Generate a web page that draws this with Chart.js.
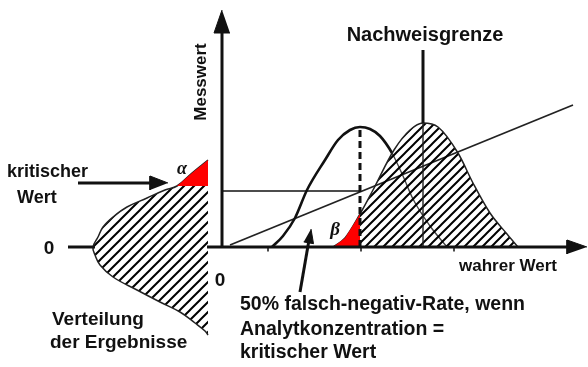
<!DOCTYPE html>
<html><head><meta charset="utf-8">
<script src="https://cdn.jsdelivr.net/npm/chart.js@4.4.1/dist/chart.umd.min.js"></script>
<style>html,body{margin:0;padding:0;background:#fff;overflow:hidden}canvas{display:block}</style>
</head><body>
<canvas id="c" width="588" height="367"></canvas>
<script>
// ---------- data (x = wahrer Wert, y = Messwert; arbitrary units) ----------
// Solid bell: distribution of results when true value = kritischer Wert
const curve1X = [5.0, 6.1, 7.3, 8.5, 10.3, 11.6, 12.8, 13.8, 14.8, 15.8, 17.0, 18.1, 19.1, 20.8, 22.5];
const curve1Y = [0, 1.1, 2.9, 5.7, 8.7, 10.7, 11.7, 12.0, 11.8, 11.1, 9.4, 7.1, 4.8, 2.1, 0];
// Hatched bell: distribution at Nachweisgrenze
const curve2X = [11.1, 12.3, 13.8, 15.1, 17.2, 18.8, 20.1, 21.6, 23.6, 25.1, 26.8, 28.5, 29.6];
const curve2Y = [0, 0.9, 3.3, 5.7, 9.7, 11.7, 12.4, 12.0, 9.4, 6.4, 3.4, 1.3, 0];
const betaCount = 3; // first points of curve2 up to kritischer Wert (beta area)
// Left distribution of blank results (density drawn to the left, over Messwert)
const blankDensity = [-1.4, -3.0, -4.5, -5.7, -7.5, -9.5, -10.9, -11.9, -12.4, -12.9, -12.7, -12.2, -10.9, -8.5, -6.2, -4.2, -2.7, -1.7, -1.4];
const blankMess    = [8.7, 7.4, 6.1, 5.7, 4.9, 4.0, 3.0, 2.0, 1.0, 0, -0.8, -1.8, -3.0, -4.3, -5.5, -6.5, -7.6, -8.4, -8.8];
const alphaCount = 3; // top points (above kritischer Wert) = alpha area
// key values
const kritischerWertX = 13.8;   // true value equal to critical value
const kritischerWertY = 5.6;    // Messwert of critical value
const kritischerPeak = 12.0;
const nachweisgrenzeX = 20.1;
const nachweisTop = 19.7;
const nachweisPeak = 12.4;
const overlapStartX = 17.0;     // where curve 1 enters the hatched area
const calibX = [0.8, 35.1];
const calibY = [0.2, 14.2];
const axisTicksX = [4.6, 13.9, 23.2];

// ---------- helpers ----------
const pts = (xs, ys) => xs.map((v, i) => ({x: v, y: ys[i]}));
function hatch(size, lw) {
  const c = document.createElement('canvas');
  c.width = size; c.height = size;
  const g = c.getContext('2d');
  g.strokeStyle = '#000'; g.lineWidth = lw; g.lineCap = 'square';
  g.beginPath();
  g.moveTo(0, size); g.lineTo(size, 0);
  g.moveTo(-size / 2, size / 2); g.lineTo(size / 2, -size / 2);
  g.moveTo(size / 2, size * 1.5); g.lineTo(size * 1.5, size / 2);
  g.stroke();
  return g.createPattern(c, 'repeat');
}
const ctx = document.getElementById('c').getContext('2d');
const hatchR = hatch(9, 2);
const hatchL = hatch(10, 2);
const RED = '#ff0000';
const INK = '#111111';

function seg(points, o) {
  return Object.assign({data: points, borderColor: INK, borderWidth: 2, pointRadius: 0, tension: 0, fill: false}, o);
}

const curve1 = pts(curve1X, curve1Y);
const curve2 = pts(curve2X, curve2Y);
const blank = pts(blankDensity, blankMess);

const datasets = [
  // bottom layers (higher order drawn first)
  seg(pts(calibX, calibY), {order: 20, borderWidth: 1.8, borderColor: '#222'}),
  seg(curve1, {order: 19, borderWidth: 2.6, cubicInterpolationMode: 'monotone',
    segment: {
      borderColor: c => c.p0.parsed.x >= overlapStartX ? '#444' : undefined,
      borderWidth: c => c.p0.parsed.x >= overlapStartX ? 1.4 : undefined
    }}),
  seg(curve2, {order: 18, borderWidth: 1.5, borderColor: '#222', cubicInterpolationMode: 'monotone', fill: 'origin', backgroundColor: hatchR}),
  seg(curve2.slice(0, betaCount).concat([{x: kritischerWertX, y: 0}]), {order: 17, borderWidth: 0, tension: 0, fill: 'shape', backgroundColor: RED}),
  seg([{x: 0, y: kritischerWertY}, {x: kritischerWertX, y: kritischerWertY}], {order: 16, borderWidth: 1.6}),
  seg([{x: kritischerWertX, y: 0}, {x: kritischerWertX, y: kritischerPeak}], {order: 15, borderWidth: 3, borderDash: [7, 4]}),
  seg([{x: nachweisgrenzeX, y: nachweisPeak}, {x: nachweisgrenzeX, y: nachweisTop}], {order: 14, borderWidth: 3}),
  seg([{x: nachweisgrenzeX, y: 0}, {x: nachweisgrenzeX, y: nachweisPeak}], {order: 14, borderWidth: 1.4, borderColor: '#222'}),
  seg(blank, {order: 13, borderWidth: 1.5, borderColor: '#222', tension: 0.4, fill: 'shape', backgroundColor: hatchL}),
  seg(blank.slice(0, alphaCount).concat([{x: blankDensity[0], y: blankMess[alphaCount - 1]}]), {order: 12, borderWidth: 0, fill: 'shape', backgroundColor: RED}),
  // axes
  seg([{x: 0, y: 0}, {x: 0, y: 21.7}], {order: 5, borderWidth: 3}),
  seg([{x: 0, y: 23.7}, {x: -0.8, y: 21.4}, {x: 0.8, y: 21.4}], {order: 5, borderWidth: 1, fill: 'shape', backgroundColor: INK}),
  seg([{x: -1.5, y: 0}, {x: 34.8, y: 0}], {order: 5, borderWidth: 3}),
  seg([{x: 36.5, y: 0}, {x: 34.5, y: 0.7}, {x: 34.5, y: -0.7}], {order: 5, borderWidth: 1, fill: 'shape', backgroundColor: INK}),
  seg([{x: -15.4, y: 0}, {x: -12.7, y: 0}], {order: 5, borderWidth: 3}),
  // arrows
  seg([{x: -14.4, y: 6.4}, {x: -7.0, y: 6.4}], {order: 5, borderWidth: 3}),
  seg([{x: -5.4, y: 6.4}, {x: -7.2, y: 7.1}, {x: -7.2, y: 5.7}], {order: 5, borderWidth: 1, fill: 'shape', backgroundColor: INK}),
  seg([{x: 7.8, y: -4.5}, {x: 8.7, y: 0.7}], {order: 5, borderWidth: 3}),
  seg([{x: 8.9, y: 1.8}, {x: 9.15, y: 0.33}, {x: 8.17, y: 0.51}], {order: 5, borderWidth: 1, fill: 'shape', backgroundColor: INK})
];
axisTicksX.forEach(t => datasets.push(seg([{x: t, y: 0}, {x: t, y: -0.45}], {order: 5, borderWidth: 1.5})));

// ---------- text labels ----------
const F = 'Liberation Sans, Arial, sans-serif';
const textLabels = [
  {text: 'Nachweisgrenze', x: 20.3, y: 20.6, font: `bold 20px ${F}`, align: 'center'},
  {text: 'Messwert', x: -2.1, y: 16.5, font: `bold 17px ${F}`, align: 'center', baseline: 'middle', rotate: -Math.PI / 2},
  {text: 'kritischer', x: -21.5, y: 7.0, font: `bold 18px ${F}`},
  {text: 'Wert', x: -20.5, y: 4.4, font: `bold 18px ${F}`},
  {text: 'α', x: -4.0, y: 7.8, font: `italic bold 18px Liberation Serif, serif`, align: 'center', baseline: 'middle'},
  {text: 'β', x: 11.3, y: 1.7, font: `italic bold 19px Liberation Serif, serif`, align: 'center', baseline: 'middle'},
  {text: '0', x: -17.3, y: -0.2, font: `bold 19px ${F}`, align: 'center', baseline: 'middle'},
  {text: '0', x: -0.2, y: -3.4, font: `bold 19px ${F}`, align: 'center', baseline: 'middle'},
  {text: 'wahrer Wert', x: 23.7, y: -2.4, font: `bold 17px ${F}`},
  {text: 'Verteilung', x: -17.0, y: -7.8, font: `bold 19px ${F}`},
  {text: 'der Ergebnisse', x: -17.2, y: -10.1, font: `bold 19px ${F}`},
  {text: '50% falsch-negativ-Rate, wenn', x: 1.8, y: -6.3, font: `bold 19.5px ${F}`},
  {text: 'Analytkonzentration =', x: 1.8, y: -8.8, font: `bold 19.5px ${F}`},
  {text: 'kritischer Wert', x: 1.8, y: -11.1, font: `bold 19.5px ${F}`}
];
const textPlugin = {
  id: 'texts',
  afterDatasetsDraw(chart) {
    const {ctx, scales: {x, y}} = chart;
    for (const t of textLabels) {
      ctx.save();
      ctx.font = t.font;
      ctx.fillStyle = INK;
      ctx.textAlign = t.align || 'left';
      ctx.textBaseline = t.baseline || 'alphabetic';
      const px = x.getPixelForValue(t.x), py = y.getPixelForValue(t.y);
      ctx.translate(px, py);
      if (t.rotate) ctx.rotate(t.rotate);
      ctx.fillText(t.text, 0, 0);
      ctx.restore();
    }
  }
};

new Chart(ctx, {
  type: 'line',
  data: {datasets},
  options: {
    responsive: false,
    animation: false,
    events: [],
    layout: {padding: 0},
    plugins: {legend: {display: false}, tooltip: {enabled: false}, title: {display: false}},
    scales: {
      x: {type: 'linear', min: -22.2, max: 36.6, display: false},
      y: {type: 'linear', min: -12.0, max: 24.7, display: false}
    }
  },
  plugins: [textPlugin]
});
</script>
</body></html>
